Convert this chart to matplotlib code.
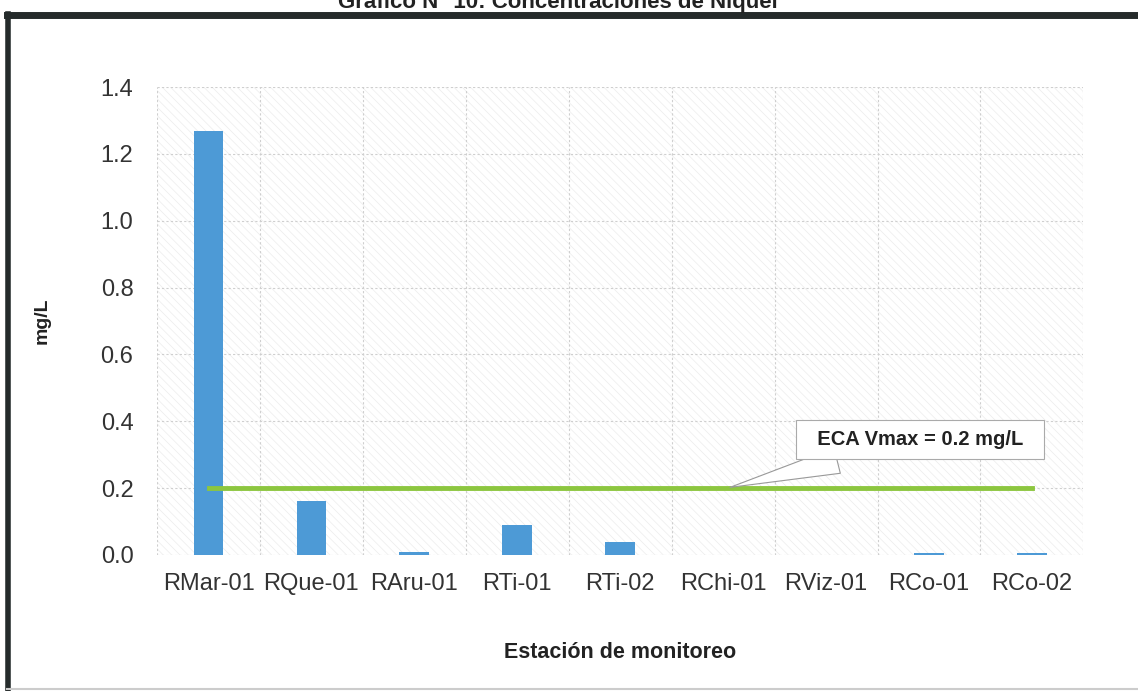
import matplotlib.pyplot as plt
import numpy as np
from matplotlib.patches import Rectangle

plt.rcParams['font.family'] = ['Liberation Sans', 'DejaVu Sans']
plt.rcParams['hatch.linewidth'] = 0.5

estaciones = ['RMar-01', 'RQue-01', 'RAru-01', 'RTi-01', 'RTi-02',
              'RChi-01', 'RViz-01', 'RCo-01', 'RCo-02']
niquel = [1.27, 0.16, 0.01, 0.09, 0.04, 0.0, 0.0, 0.007, 0.007]
eca = [0.2] * len(estaciones)
yticks = [0.0, 0.2, 0.4, 0.6, 0.8, 1.0, 1.2, 1.4]

fig = plt.figure(figsize=(11.38, 6.91), dpi=100)
ax = fig.add_axes([0.138, 0.197, 0.814, 0.677])

x = np.arange(len(estaciones))

# fondo rayado suave
ax.add_patch(Rectangle((0, 0), 1, 1, transform=ax.transAxes, facecolor='none',
                       edgecolor='#ececec', hatch='\\\\\\\\', linewidth=0, zorder=0))

ax.bar(x, niquel, width=0.29, color='#4d9ad6', zorder=3)
ax.plot(x, eca, color='#8cc63f', linewidth=3.5, zorder=4)

ax.set_xlim(-0.5, len(estaciones) - 0.5)
ax.set_ylim(0, 1.4)
ax.set_yticks(yticks)
ax.set_yticklabels([f'{v:.1f}' for v in yticks])
ax.set_xticks(x)
ax.set_xticklabels(estaciones)
ax.set_xticks(np.arange(-0.5, len(estaciones), 1), minor=True)
ax.tick_params(axis='both', which='both', length=0, labelsize=17, colors='#333333')
ax.tick_params(axis='y', pad=17)
ax.tick_params(axis='x', pad=13)
ax.grid(axis='y', which='major', color='#cfcfcf', linestyle=(0, (2, 2)), linewidth=0.8, zorder=1)
ax.grid(axis='x', which='minor', color='#cfcfcf', linestyle=(0, (2, 2)), linewidth=0.8, zorder=1)
for s in ax.spines.values():
    s.set_visible(False)

ax.set_ylabel('mg/L', fontsize=14, fontweight='bold', color='#222222', labelpad=36)
ax.set_xlabel('Estación de monitoreo', fontsize=15.5, fontweight='semibold',
              color='#222222', labelpad=34)

ax.annotate('  ECA Vmax = 0.2 mg/L  ', xy=(5.04, 0.2), xytext=(6.91, 0.344),
            fontsize=14.5, fontweight='bold', color='#222222', ha='center', va='center',
            bbox=dict(boxstyle='square,pad=0.5', facecolor='white', edgecolor='#aaaaaa',
                      linewidth=0.8),
            arrowprops=dict(arrowstyle='wedge,tail_width=1.3', facecolor='white',
                            edgecolor='#999999', linewidth=0.8),
            zorder=5)

# marco del informe y titulo recortado
fig.add_artist(plt.Line2D([0.006, 1.0], [0.978, 0.978], transform=fig.transFigure,
                          color='#252b2b', linewidth=5))
fig.add_artist(plt.Line2D([0.007, 0.007], [0.0, 0.98], transform=fig.transFigure,
                          color='#252b2b', linewidth=4))
fig.add_artist(plt.Line2D([0.006, 1.0], [0.003, 0.003], transform=fig.transFigure,
                          color='#cccccc', linewidth=1.5))
fig.text(0.49, 1 - 8 / 691, 'Gráfico N° 10: Concentraciones de Níquel', ha='center',
         va='baseline', fontsize=16, fontweight='bold', color='#222222')

fig.savefig('out.png', dpi=100)
